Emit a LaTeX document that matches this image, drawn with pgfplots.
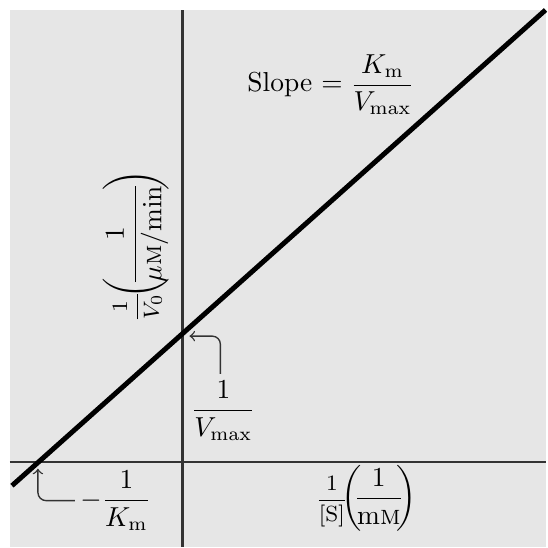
\documentclass[border=0pt]{standalone}
\usepackage{amsmath}
\usepackage{pgfplots}
\pgfplotsset{compat=1.18}
\definecolor{bg}{HTML}{E6E6E6}
\definecolor{ax}{HTML}{333333}
\begin{document}
\begin{tikzpicture}
\begin{axis}[
  x=0.3636pt, y=0.3636pt,
  xmin=-183, xmax=364, ymin=-85, ymax=463,
  axis lines=none, ticks=none, clip=false,
]
\fill[white] (axis cs:-183,-85) rectangle (axis cs:364,463);
\fill[bg] (axis cs:-173,-85) rectangle (axis cs:364,453);
\draw[ax, line width=0.75pt] (axis cs:0,-85) -- (axis cs:0,453);
\draw[ax, line width=0.75pt] (axis cs:-173,0) -- (axis cs:364,0);
\addplot[black, line width=1.8pt] coordinates {(-171,-24) (364,453)};
\node at (axis cs:149,378) {Slope $=\dfrac{K_{\mathrm{m}}}{V_{\max}}$};
\node[rotate=90, inner sep=0pt] at (axis cs:-47,216) {{\footnotesize$\dfrac{1}{V_0}$}\hspace{-2.5pt}$\left(\mkern-5mu\dfrac{1}{\mu\textsc{m}/\mathrm{min}}\mkern-5mu\right)$};
\node at (axis cs:41,51) {$\dfrac{1}{V_{\max}}$};
\node at (axis cs:-67,-39) {$-\dfrac{1}{K_{\mathrm{m}}}$};
\node[inner sep=0pt] at (axis cs:184,-37) {{\footnotesize$\dfrac{1}{[\mathrm{S}]}$}\hspace{-2.5pt}$\left(\mkern-5mu\dfrac{1}{\mathrm{m}\textsc{m}}\mkern-5mu\right)$};
\draw[ax, ->, line width=0.5pt, rounded corners=3pt] (axis cs:38,88) |- (axis cs:7,126);
\draw[ax, ->, line width=0.5pt, rounded corners=3pt] (axis cs:-108,-39) -| (axis cs:-145,-7);
\end{axis}
\end{tikzpicture}
\end{document}
